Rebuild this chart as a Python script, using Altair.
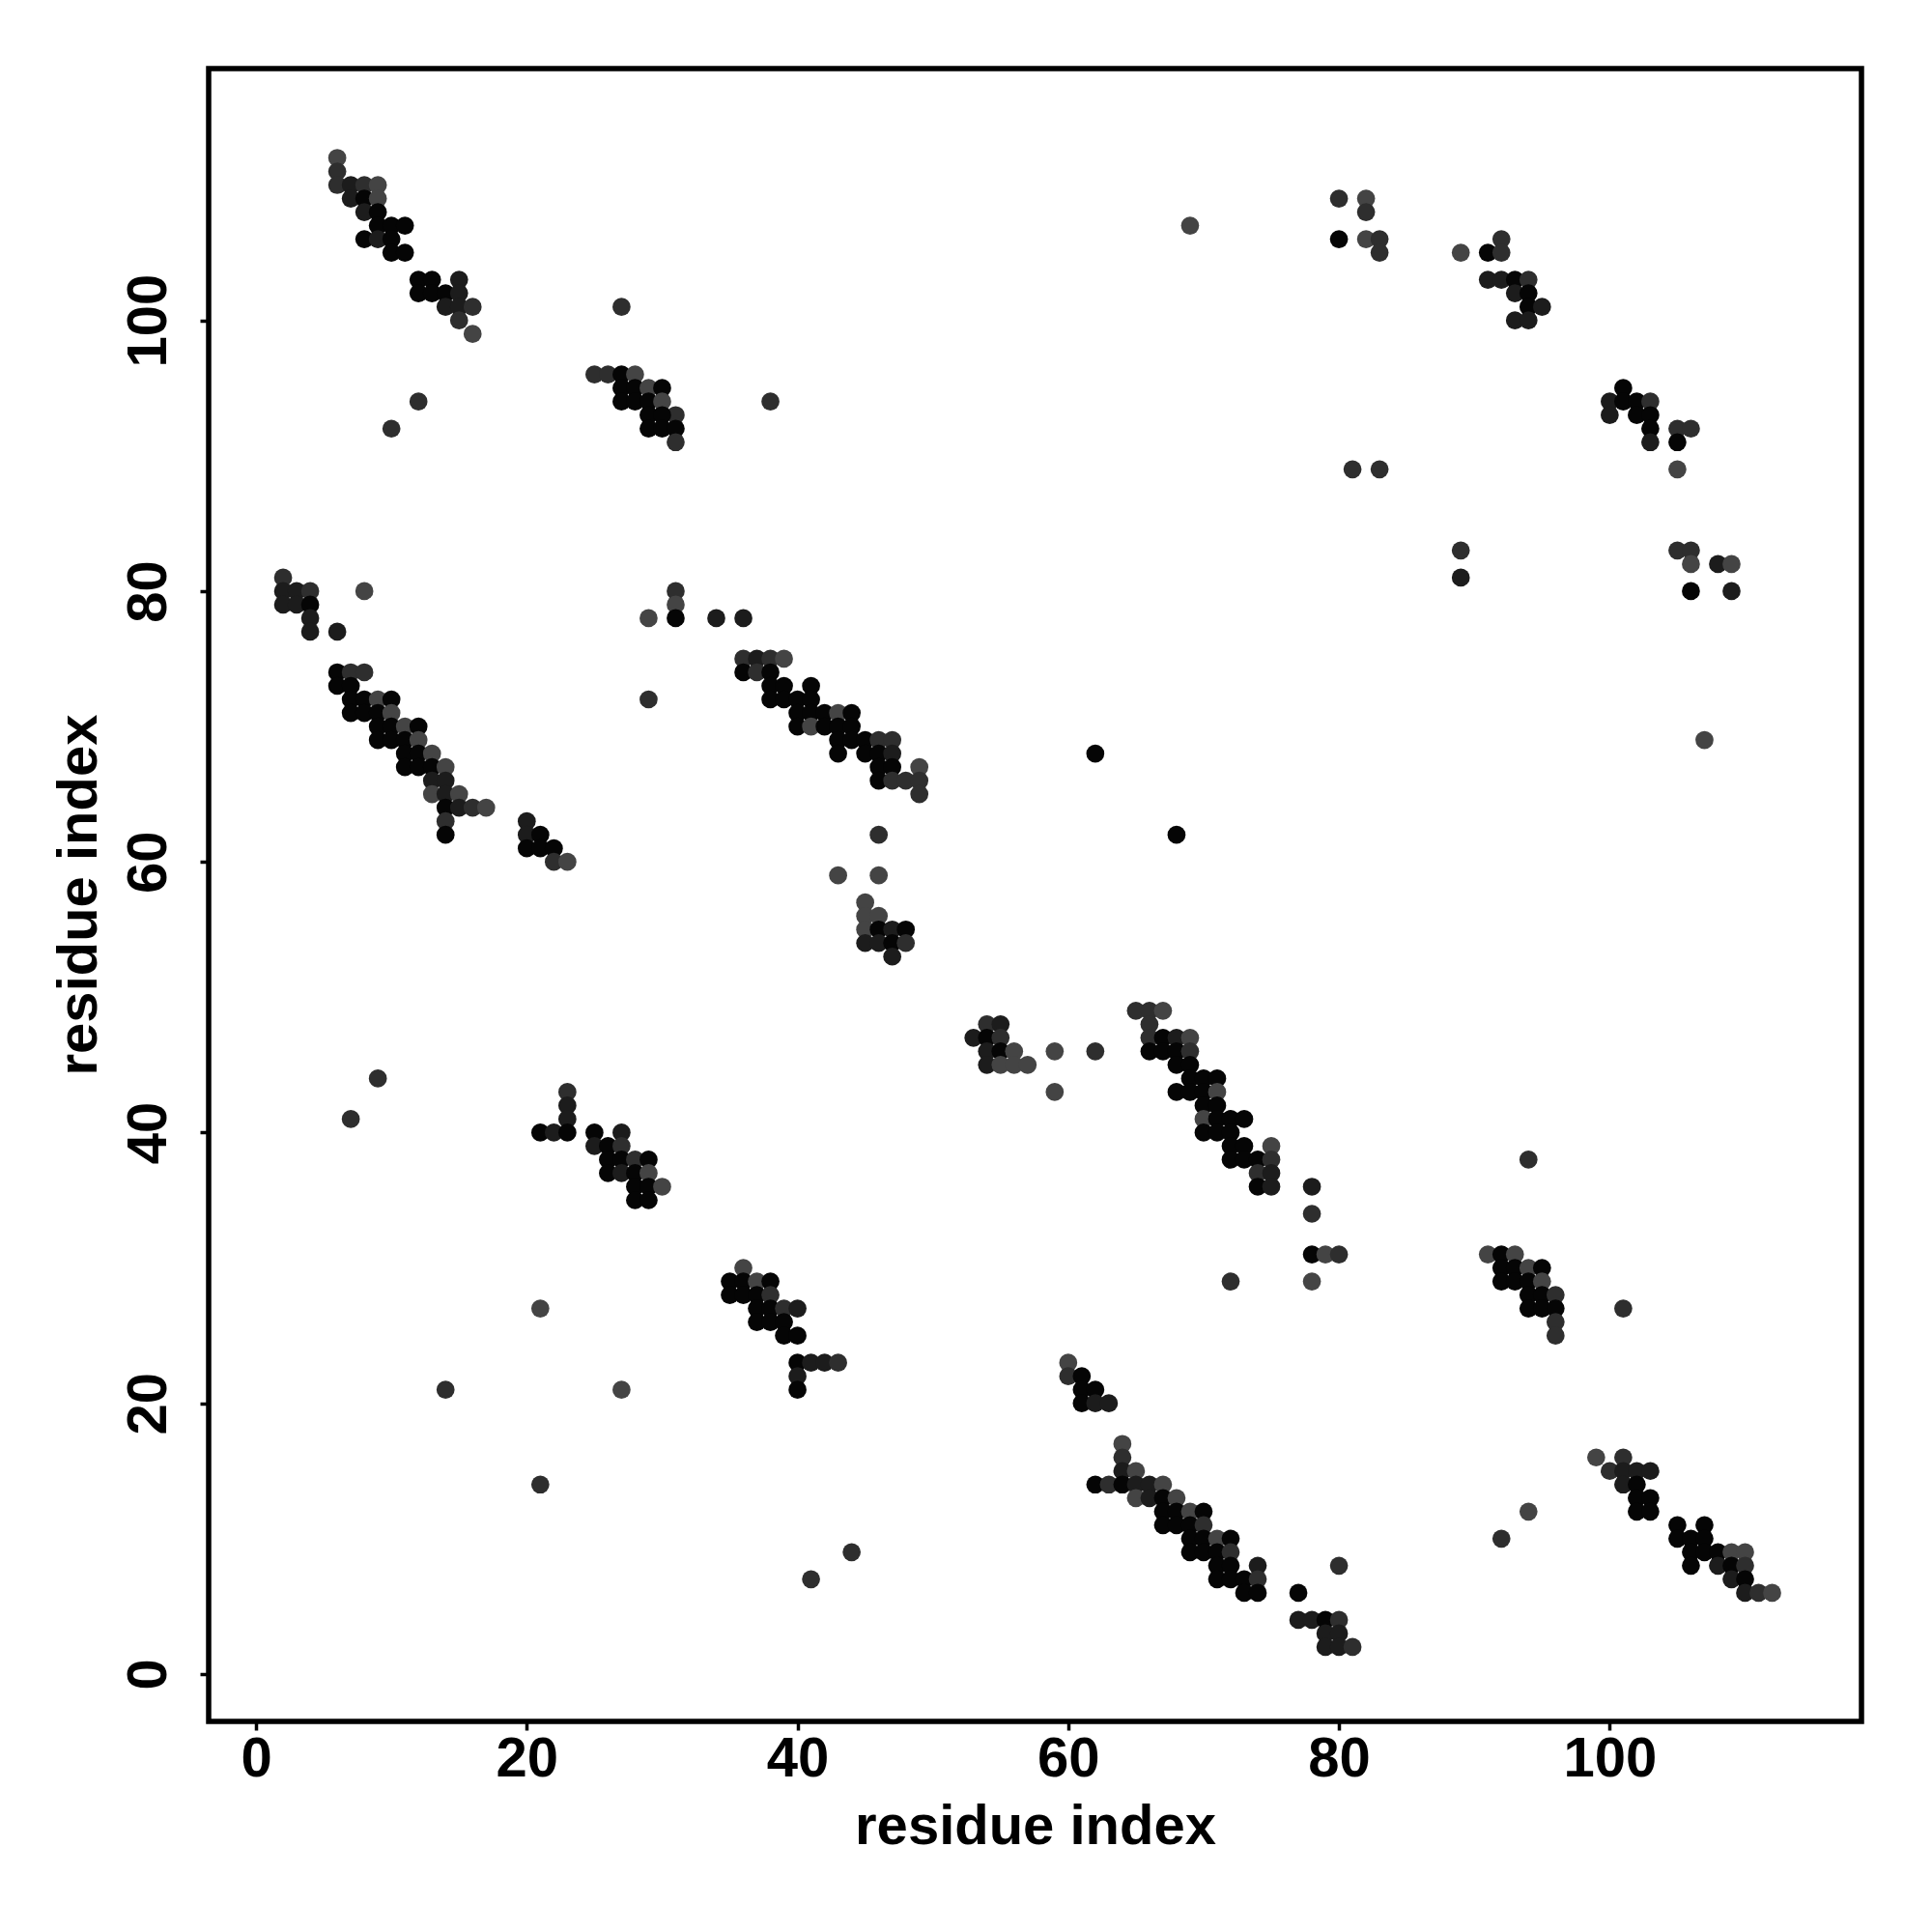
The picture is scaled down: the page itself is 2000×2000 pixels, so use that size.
import altair as alt
import pandas as pd

# residue i (x), residue j (y), shade code (0 = black ... 3 = mid gray)
pts = [
    # top-left block
    (6,112,3),(6,111,2),(6,110,2),(7,110,1),(8,110,2),(9,110,3),(7,109,1),(8,109,0),(9,109,3),(8,108,1),(9,108,0),
    (9,107,0),(10,107,0),(11,107,0),(8,106,0),(9,106,1),(10,106,0),(10,105,0),(11,105,0),(12,103,0),(13,103,0),(15,103,1),
    (12,102,0),(13,102,0),(14,102,0),(15,102,1),(14,101,1),(15,101,1),(16,101,2),(15,100,2),(16,99,3),(12,94,2),(10,92,2),
    (27,101,2),(25,96,2),(26,96,2),(27,96,0),(28,96,3),(27,95,0),(28,95,0),(29,95,3),(30,95,0),(27,94,0),(28,94,0),(29,94,0),
    (30,94,3),(31,93,2),(29,93,0),(30,93,0),(29,92,0),(30,92,0),(31,92,0),(31,91,2),(38,94,2),
    # top-right
    (69,107,3),(80,109,2),(82,109,3),(82,108,2),(80,106,0),(82,106,3),(83,106,2),(83,105,2),(81,89,2),(83,89,2),
    (89,105,3),(92,106,2),(91,105,0),(92,105,2),(91,103,1),(92,103,1),(93,103,0),(94,103,2),(93,102,1),(94,102,0),
    (94,101,0),(95,101,1),(93,100,1),(94,100,1),
    (101,95,0),(100,94,1),(101,94,0),(102,94,0),(103,94,2),(100,93,1),(102,93,0),(103,93,0),(103,92,0),(103,91,1),
    (105,92,2),(106,92,2),(105,91,0),(105,89,3),
    (89,83,2),(89,81,1),(105,83,2),(106,83,2),(106,82,3),(108,82,1),(109,82,3),(106,80,0),(109,80,1),(107,69,3),
    # left middle
    (2,81,2),(2,80,1),(3,80,1),(4,80,2),(2,79,1),(3,79,1),(4,79,0),(4,78,1),(4,77,1),(6,77,1),(8,80,3),
    (6,74,0),(7,74,2),(8,74,2),(6,73,0),(7,73,0),(7,72,0),(8,72,0),(9,72,3),(10,72,0),(7,71,0),(8,71,0),(9,71,0),(10,71,3),
    (9,70,0),(10,70,0),(11,70,3),(12,70,0),(9,69,0),(10,69,0),(11,69,0),(12,69,3),(11,68,0),(12,68,0),(13,68,3),
    (11,67,0),(12,67,0),(13,67,0),(14,67,3),(13,66,1),(14,66,1),(13,65,3),(14,65,1),(15,65,3),(14,64,0),(15,64,1),
    (16,64,2),(17,64,3),(14,63,2),(14,62,0),
    (20,63,1),(20,62,1),(21,62,0),(20,61,0),(21,61,0),(22,61,0),(22,60,2),(23,60,3),
    # centre band
    (31,80,2),(31,79,3),(31,78,0),(29,78,3),(34,78,1),(36,78,1),(29,72,2),
    (36,75,2),(37,75,1),(38,75,2),(39,75,3),(36,74,0),(37,74,2),(38,74,0),(38,73,0),(39,73,0),(41,73,0),
    (38,72,0),(39,72,0),(40,72,0),(41,72,0),
    (40,71,0),(41,71,0),(42,71,0),(43,71,3),(44,71,0),(40,70,0),(41,70,3),(42,70,0),(43,70,0),(44,70,0),
    (43,69,0),(44,69,0),(45,69,0),(46,69,2),(47,69,2),
    (43,68,0),(45,68,0),(46,68,0),(47,68,1),(46,67,0),(47,67,0),(49,67,3),(46,66,0),(47,66,2),(48,66,2),(49,66,2),(49,65,2),
    (46,62,2),(43,59,3),(46,59,3),(45,57,3),(45,56,3),(46,56,3),(45,55,3),(46,55,0),(47,55,1),(48,55,0),
    (45,54,1),(46,54,1),(47,54,0),(48,54,2),(47,53,1),
    (53,47,1),(54,48,2),(55,48,1),(54,47,0),(55,47,2),(54,46,1),(55,46,0),(56,46,3),(54,45,1),(55,45,3),(56,45,3),
    (57,45,3),(59,46,3),(59,43,3),(62,46,2),
    (65,49,2),(66,49,2),(67,49,3),(66,48,2),(66,47,2),(67,47,0),(68,47,1),(69,47,3),(66,46,0),(67,46,0),(68,46,0),
    (69,46,2),(68,45,0),(69,45,0),
    (69,44,0),(70,44,0),(71,44,0),(68,43,0),(69,43,0),(70,43,0),(71,43,3),(70,42,0),(71,42,0),(70,41,3),(71,41,0),
    (72,41,0),(73,41,0),
    (70,40,0),(71,40,0),(72,40,0),(72,39,0),(73,39,0),(75,39,3),(72,38,0),(73,38,0),(74,38,0),(75,38,2),(74,37,2),
    (75,37,1),(74,36,0),(75,36,1),
    (78,36,1),(78,34,2),(78,31,0),(79,31,3),(80,31,2),(72,29,2),(78,29,3),(62,68,0),(68,62,0),
    # left lower
    (9,44,2),(7,41,2),(23,43,2),(23,42,1),(23,41,1),(21,40,0),(22,40,1),(23,40,0),(25,40,0),(27,40,1),(25,39,1),
    (26,39,0),(27,39,2),(26,38,0),(27,38,0),(28,38,2),(29,38,0),
    (26,37,0),(27,37,1),(28,37,0),(29,37,3),(28,36,0),(29,36,0),(30,36,3),(28,35,0),(29,35,0),
    (21,27,3),(14,21,2),(27,21,3),(21,14,2),
    (36,30,3),(35,29,0),(36,29,0),(37,29,3),(38,29,0),(35,28,0),(36,28,0),(37,28,0),(38,28,2),(37,27,0),(38,27,0),
    (39,27,2),(40,27,1),(37,26,0),(38,26,0),(39,26,0),(39,25,0),(40,25,0),
    (40,23,0),(41,23,1),(42,23,1),(43,23,2),(40,22,1),(40,21,0),(44,9,2),(41,7,2),
    # bottom middle
    (60,23,3),(60,22,2),(61,22,0),(61,21,0),(62,21,0),(61,20,0),(62,20,1),(63,20,1),(64,17,3),(64,16,2),(64,15,1),
    (65,15,3),(62,14,0),(63,14,2),(64,14,0),(65,14,1),(66,14,1),(67,14,3),
    (65,13,3),(66,13,1),(67,13,0),(68,13,3),(67,12,0),(68,12,0),(69,12,3),(70,12,0),(67,11,0),(68,11,0),(69,11,0),
    (70,11,2),(69,10,0),(70,10,0),(71,10,3),(72,10,0),
    (69,9,0),(70,9,0),(71,9,0),(72,9,2),(71,8,0),(72,8,0),(74,8,1),(71,7,0),(72,7,0),(73,7,0),(74,7,2),(73,6,0),(74,6,0),
    (80,8,2),(77,6,0),(77,4,1),(78,4,1),(79,4,0),(80,4,2),(79,3,1),(80,3,1),(79,2,1),(80,2,1),(81,2,2),
    # bottom right
    (94,38,2),(91,31,3),(92,31,0),(93,31,3),(92,30,0),(93,30,0),(94,30,3),(95,30,0),(92,29,0),(93,29,0),(94,29,0),
    (95,29,3),(94,28,0),(95,28,0),(96,28,2),(94,27,0),(95,27,0),(96,27,0),(96,26,2),(96,25,2),(101,27,2),
    (94,12,3),(92,10,2),(99,16,3),(101,16,2),(100,15,2),(101,15,1),(102,15,1),(103,15,1),(101,14,1),(102,14,0),
    (102,13,0),(103,13,0),(102,12,0),(103,12,0),
    (105,11,0),(107,11,0),(105,10,0),(106,10,0),(107,10,0),(106,9,0),(107,9,0),(108,9,0),(109,9,3),(110,9,3),
    (106,8,0),(108,8,1),(109,8,0),(110,8,2),(109,7,1),(110,7,0),(110,6,1),(111,6,2),(112,6,3),
]

res_i = [p[0] for p in pts]
res_j = [p[1] for p in pts]
shade = [p[2] for p in pts]

tick_values = [0, 20, 40, 60, 80, 100]
shade_levels = [0, 1, 2, 3]
shade_colors = ["#050505", "#1c1c1c", "#2e2e2e", "#444444"]

df = pd.DataFrame({"i": res_i, "j": res_j, "s": shade, "order": list(range(len(res_i)))})

FONT = "Liberation Sans"
dom = [-3.5, 118.6]

chart = alt.Chart(df).mark_circle(size=350, opacity=1).encode(
    x=alt.X("i:Q", scale=alt.Scale(domain=dom, nice=False, zero=False),
            axis=alt.Axis(values=tick_values, title="residue index", grid=False, domain=False,
                          tickSize=9, tickWidth=3.5, tickColor="black",
                          labelFont=FONT, labelFontWeight="bold", labelFontSize=58, labelColor="black",
                          labelPadding=1, labelFlush=False,
                          titleFont=FONT, titleFontWeight="bold", titleFontSize=58, titleColor="black",
                          titleY=126, titleBaseline="alphabetic")),
    y=alt.Y("j:Q", scale=alt.Scale(domain=dom, nice=False, zero=False),
            axis=alt.Axis(values=tick_values, title="residue index", grid=False, domain=False,
                          tickSize=9, tickWidth=3.5, tickColor="black",
                          labelFont=FONT, labelFontWeight="bold", labelFontSize=58, labelColor="black",
                          labelAngle=270, labelAlign="center", labelBaseline="alphabetic",
                          labelPadding=36, labelFlush=False,
                          titleFont=FONT, titleFontWeight="bold", titleFontSize=58, titleColor="black",
                          titleAngle=270, titleX=-117, titleY=855, titleAlign="center",
                          titleBaseline="alphabetic")),
    color=alt.Color("s:O", scale=alt.Scale(domain=shade_levels, range=shade_colors), legend=None),
    order=alt.Order("order:Q"),
).properties(
    width=1711, height=1711,
    padding={"left": 208, "top": 63, "right": 65, "bottom": 210},
    autosize=alt.AutoSizeParams(type="none"),
).configure(
    background="white",
    view=alt.ViewConfig(stroke="black", strokeWidth=5.5),
)

chart.save("out.html", embed_options={"renderer": "svg", "actions": False})
